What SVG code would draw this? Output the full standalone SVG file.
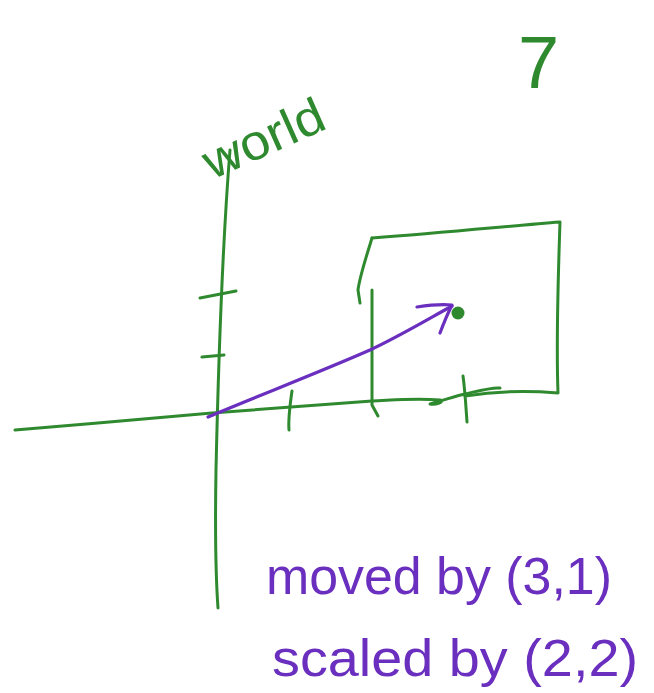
<svg xmlns="http://www.w3.org/2000/svg" width="654" height="693" viewBox="0 0 654 693">
<style>
.g{fill:none;stroke:#2f8a2f;stroke-width:3;stroke-linecap:round;stroke-linejoin:round}
.p{fill:none;stroke:#6a2fbf;stroke-width:3.2;stroke-linecap:round;stroke-linejoin:round}
.tg{fill:#2f8a2f;font-family:"Liberation Sans",Arial,sans-serif}
.tp{fill:#6a2fbf;font-family:"Liberation Sans",Arial,sans-serif}
</style>
<rect width="654" height="693" fill="#ffffff"/>
<g id="page-number"><text class="tg" x="518" y="88" font-size="74">7</text></g>
<g id="world-label"><text class="tg" x="212" y="180" font-size="50" transform="rotate(-24 212 180)" textLength="128" lengthAdjust="spacingAndGlyphs">world</text></g>
<g id="axes">
<path class="g" d="M15,430 C80,425 150,418 212,413 C280,408 330,404 372,401"/>
<path class="g" d="M230,150 C222,250 218,380 216,470 C215,530 216,580 218,608"/>
<path class="g" d="M200,298 L236,291"/>
<path class="g" d="M202,357 L224,355"/>
<path class="g" d="M292,391 C290,405 288,418 289,430"/>
</g>
<g id="box">
<path class="g" d="M372,238 C450,232 510,226 560,222 C558,280 556,340 558,393 C520,390 490,392 465,396"/>
<path class="g" d="M372,238 C366,258 360,275 358,290 L360,303"/>
<path class="g" d="M372,290 C372,330 372,370 372,405 L378,416"/>
<path class="g" d="M372,401 C395,400 415,398 440,400 C445,402 436,405 430,404 C445,400 455,396 465,394 C478,391 492,387 500,388"/>
<path class="g" d="M463,376 C465,390 466,408 467,422"/>
<circle cx="458" cy="313" r="6.5" fill="#2f8a2f"/>
</g>
<g id="connectors">
<path class="p" d="M208,417 C260,395 320,372 370,350 C400,336 430,318 452,306"/>
<path class="p" d="M417,307 C430,305 442,304 452,305 C447,315 443,325 440,333"/>
</g>
<g id="caption">
<text class="tp" x="266" y="594" font-size="52" textLength="346" lengthAdjust="spacingAndGlyphs">moved by (3,1)</text>
<text class="tp" x="272" y="676" font-size="52" textLength="366" lengthAdjust="spacingAndGlyphs">scaled by (2,2)</text>
</g>
</svg>
